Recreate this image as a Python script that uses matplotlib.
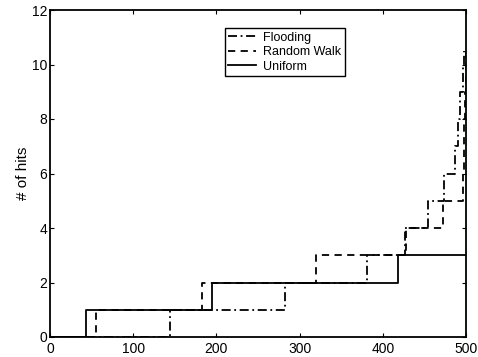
import matplotlib
matplotlib.use("Agg")
import matplotlib.pyplot as plt

# Data (step functions: value holds from x until next x)
flood_x = [0, 144, 282, 381, 427, 454, 474, 487, 490, 493, 496, 498]
flood_y = [0, 1, 2, 3, 4, 5, 6, 7, 8, 9, 10, 10.5]
rw_x = [0, 55, 183, 320, 428, 472, 496, 497, 498, 499, 500]
rw_y = [0, 1, 2, 3, 4, 5, 6, 7, 8, 9, 10.5]
uni_x = [0, 43, 195, 418, 500]
uni_y = [0, 1, 2, 3, 3]

xticks = [0, 100, 200, 300, 400, 500]
yticks = [0, 2, 4, 6, 8, 10, 12]

plt.rcParams['font.family'] = ['Liberation Sans', 'DejaVu Sans']

fig = plt.figure(figsize=(4.78, 3.57), dpi=100)
ax = fig.add_axes([50/478, 20/357, 416/478, 327/357])

ax.plot(flood_x, flood_y, drawstyle='steps-post', color='black', lw=1.3,
        linestyle=(0, (5, 2, 1, 2)), label='Flooding')
ax.plot(rw_x, rw_y, drawstyle='steps-post', color='black', lw=1.3,
        linestyle=(0, (4, 3)), label='Random Walk')
ax.plot(uni_x, uni_y, drawstyle='steps-post', color='black', lw=1.3,
        linestyle='-', label='Uniform')

ax.set_xlim(0, 500)
ax.set_ylim(0, 12)
ax.set_xticks(xticks)
ax.set_yticks(yticks)
ax.tick_params(direction='in', length=3, width=0.8, top=True, right=True,
               labelsize=10, colors='black')
ax.tick_params(axis='y', pad=2)
ax.tick_params(axis='x', pad=3.5)
for s in ax.spines.values():
    s.set_linewidth(1.3)
    s.set_color('black')

ax.set_ylabel('# of hits', fontsize=11, labelpad=1)

leg = ax.legend(loc='upper left', bbox_to_anchor=(0.42, 0.945), borderaxespad=0,
                fontsize=9, fancybox=False, framealpha=1, edgecolor='black',
                handlelength=2.2, labelspacing=0.2, borderpad=0.3,
                handletextpad=0.6)
leg.get_frame().set_linewidth(1.0)
leg.get_frame().set_boxstyle('square', pad=0)

fig.savefig('out.png', dpi=100)
